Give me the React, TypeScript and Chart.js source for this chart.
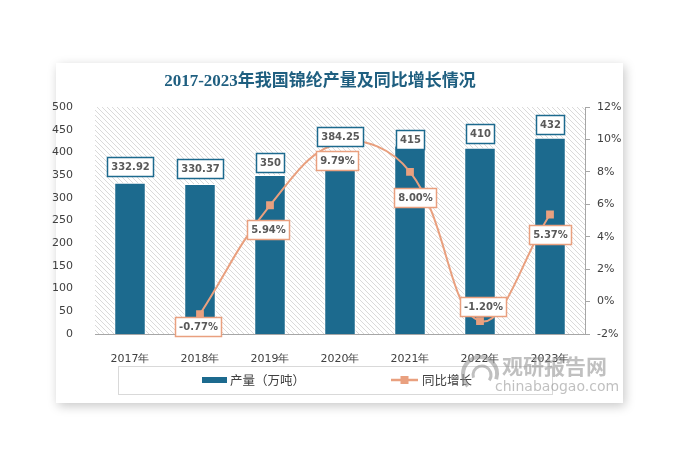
import React, { useEffect, useRef } from 'react';
import { Chart, registerables } from 'chart.js';

Chart.register(...registerables);

const categories = ['2017年', '2018年', '2019年', '2020年', '2021年', '2022年', '2023年'];
const production = [332.92, 330.37, 350, 384.25, 415, 410, 432];
const growth = [null, -0.77, 5.94, 9.79, 8.0, -1.2, 5.37];
const productionLabels = ['332.92', '330.37', '350', '384.25', '415', '410', '432'];
const growthLabels = ['', '-0.77%', '5.94%', '9.79%', '8.00%', '-1.20%', '5.37%'];

const titleText = '2017-2023年我国锦纶产量及同比增长情况';
const seriesNames = ['产量（万吨）', '同比增长'];

// label placement relative to the mark (layout only)
const barLabelDy = [-16, -16, -13, -23, -6, -14, -13];
const lineLabelDx = [0, -2, -2, -3, 5, 3, 0];
const lineLabelDy = [0, 12, 24, 18, 26, -15, 20];

const BAR = '#1c6a8e';
const LINE = '#e9a07f';

function drawBox(ctx: CanvasRenderingContext2D, text: string, cx: number, cy: number, border: string) {
  ctx.save();
  ctx.font = 'bold 10px "DejaVu Sans"';
  const w = Math.round(ctx.measureText(text).width + 7);
  const h = 19;
  const x = Math.round(cx - w / 2) + 0.5;
  const y = Math.round(cy - h / 2) + 0.5;
  ctx.fillStyle = '#ffffff';
  ctx.fillRect(x, y, w, h);
  ctx.lineWidth = 1.5;
  ctx.strokeStyle = border;
  ctx.strokeRect(x, y, w, h);
  ctx.fillStyle = '#595959';
  ctx.textAlign = 'center';
  ctx.textBaseline = 'middle';
  ctx.fillText(text, x + w / 2, y + h / 2 + 0.5);
  ctx.restore();
}

const hatchPlugin = {
  id: 'hatch',
  beforeDraw(chart: any) {
    const { ctx, chartArea } = chart;
    const { left, top, right, bottom } = chartArea;
    const n = 5;
    const p = document.createElement('canvas');
    p.width = n;
    p.height = n;
    const pc = p.getContext('2d')!;
    pc.strokeStyle = '#d6d6d6';
    pc.lineWidth = 0.9;
    pc.beginPath();
    pc.moveTo(0, 0); pc.lineTo(n, n);
    pc.moveTo(-1, n - 1); pc.lineTo(1, n + 1);
    pc.moveTo(n - 1, -1); pc.lineTo(n + 1, 1);
    pc.stroke();
    ctx.save();
    const pat = ctx.createPattern(p, 'repeat');
    if (pat) ctx.fillStyle = pat;
    ctx.fillRect(left, top, right - left, bottom - top);
    ctx.restore();
  },
};

const decorPlugin = {
  id: 'decor',
  afterDraw(chart: any) {
    const ctx: CanvasRenderingContext2D = chart.ctx;
    // data labels
    const barMeta = chart.getDatasetMeta(0);
    barMeta.data.forEach((el: any, i: number) => {
      drawBox(ctx, productionLabels[i], el.x, el.y + barLabelDy[i], BAR);
    });
    const lineMeta = chart.getDatasetMeta(1);
    lineMeta.data.forEach((el: any, i: number) => {
      if (growth[i] === null || !growthLabels[i]) return;
      drawBox(ctx, growthLabels[i], el.x + lineLabelDx[i], el.y + lineLabelDy[i], LINE);
    });

    ctx.save();
    // title
    ctx.font = 'bold 17px "Liberation Serif", "Noto Sans CJK SC"';
    ctx.fillStyle = '#1f5f80';
    ctx.textAlign = 'center';
    ctx.textBaseline = 'middle';
    ctx.fillText(titleText, 320, 82);

    // legend
    ctx.strokeStyle = '#d9d9d9';
    ctx.lineWidth = 1;
    ctx.strokeRect(118.5, 366.5, 434, 28);
    ctx.fillStyle = BAR;
    ctx.fillRect(202, 377, 25, 6);
    ctx.font = '12.5px "Noto Sans CJK SC"';
    ctx.fillStyle = '#404040';
    ctx.textAlign = 'left';
    ctx.fillText(seriesNames[0], 230, 380);
    ctx.strokeStyle = LINE;
    ctx.lineWidth = 2.5;
    ctx.beginPath();
    ctx.moveTo(391, 380);
    ctx.lineTo(418, 380);
    ctx.stroke();
    ctx.fillStyle = LINE;
    ctx.fillRect(400.5, 376, 8, 8);
    ctx.fillStyle = '#404040';
    ctx.fillText(seriesNames[1], 422, 380);

    // watermark
    ctx.globalAlpha = 0.55;
    ctx.strokeStyle = '#8c8c8c';
    ctx.lineWidth = 4;
    ctx.beginPath();
    ctx.arc(480, 374, 17, Math.PI * 0.75, Math.PI * 2.1);
    ctx.stroke();
    ctx.lineWidth = 3;
    ctx.beginPath();
    ctx.arc(482, 375, 9, Math.PI * 0.9, Math.PI * 2.2);
    ctx.stroke();
    ctx.fillStyle = '#8c8c8c';
    ctx.font = 'bold 21px "Noto Sans CJK SC"';
    ctx.textAlign = 'left';
    ctx.fillText('观研报告网', 502, 366);
    ctx.font = '14px "DejaVu Sans"';
    ctx.fillText('chinabaogao.com', 495, 387);
    ctx.restore();
  },
};

export default function App() {
  const ref = useRef<HTMLCanvasElement>(null);
  useEffect(() => {
    if (!ref.current) return;
    const chart = new Chart(ref.current, {
      data: {
        labels: categories,
        datasets: [
          {
            type: 'bar',
            label: seriesNames[0],
            data: production,
            backgroundColor: BAR,
            borderColor: '#ffffff',
            borderWidth: 1,
            barPercentage: 0.45,
            categoryPercentage: 1,
            yAxisID: 'y',
            order: 1,
          },
          {
            type: 'line',
            label: seriesNames[1],
            data: growth as any,
            borderColor: LINE,
            backgroundColor: LINE,
            borderWidth: 2,
            tension: 0.4,
            pointStyle: 'rect',
            pointRadius: 5.5,
            pointBorderWidth: 0,
            yAxisID: 'y1',
            order: 0,
          },
        ],
      } as any,
      options: {
        responsive: false,
        animation: false,
        layout: { padding: { top: 107, left: 0, right: 0, bottom: 0 } },
        plugins: { legend: { display: false }, tooltip: { enabled: false }, title: { display: false } },
        scales: {
          x: {
            afterFit: (s: any) => { s.height = 121; },
            grid: { display: false },
            border: { display: true, color: '#a6a6a6', width: 1 },
            ticks: { padding: 11, color: '#404040', font: { family: 'DejaVu Sans', size: 11 } },
          },
          y: {
            position: 'left',
            min: 0,
            max: 500,
            afterFit: (s: any) => { s.width = 95; },
            grid: { display: false },
            border: { display: false },
            ticks: { stepSize: 50, padding: 14, color: '#404040', font: { family: 'DejaVu Sans', size: 11 } },
          },
          y1: {
            position: 'right',
            min: -2,
            max: 12,
            afterFit: (s: any) => { s.width = 103; },
            grid: { display: true, drawOnChartArea: false, drawTicks: true, tickLength: 5, color: '#a6a6a6' },
            border: { display: true, color: '#a6a6a6', width: 1 },
            ticks: {
              stepSize: 2,
              padding: 7,
              color: '#404040',
              font: { family: 'DejaVu Sans', size: 11 },
              callback: (v: any) => v + '%',
            },
          },
        },
      } as any,
      plugins: [hatchPlugin, decorPlugin],
    });
    return () => chart.destroy();
  }, []);

  return (
    <div style={{ position: 'absolute', left: 0, top: 0, width: 688, height: 455, background: '#ffffff', overflow: 'hidden' }}>
      <div
        style={{
          position: 'absolute',
          left: 56,
          top: 63,
          width: 567,
          height: 340,
          background: '#ffffff',
          boxShadow: '2px 3px 10px rgba(0,0,0,0.22)',
        }}
      />
      <canvas ref={ref} width={688} height={455} style={{ position: 'absolute', left: 0, top: 0, width: 688, height: 455 }} />
    </div>
  );
}
